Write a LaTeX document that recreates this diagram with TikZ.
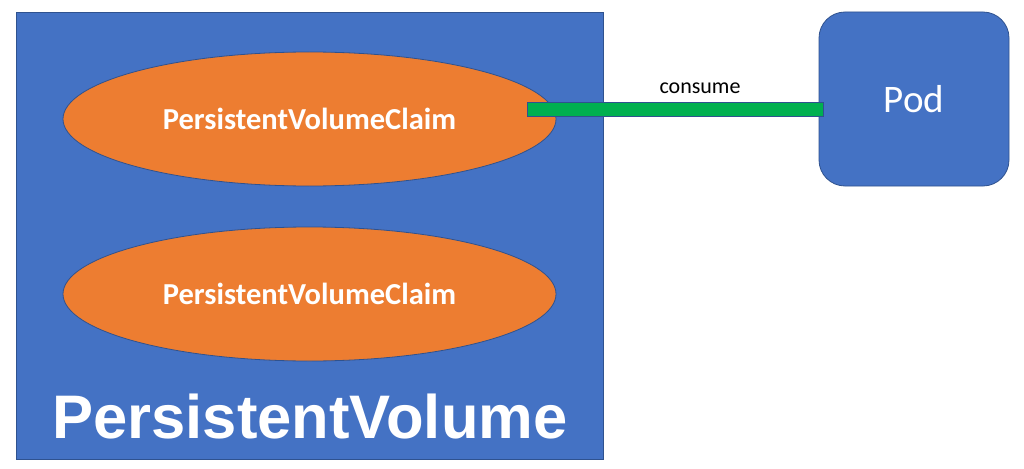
\documentclass[tikz,border=0pt]{standalone}
\usepackage{fontspec}
\setmainfont{Carlito}
\newfontfamily\arialfont{Liberation Sans}
\usetikzlibrary{shapes.geometric,calc}
\definecolor{pvblue}{HTML}{4472C4}
\definecolor{pvborder}{HTML}{2F528F}
\definecolor{pvorange}{HTML}{ED7D31}
\definecolor{pvgreen}{HTML}{00B050}
\tikzset{
  volbox/.style={draw=pvborder, fill=pvblue, line width=0.8pt, inner sep=0pt, minimum width=587pt, minimum height=447pt},
  claim/.style={ellipse, draw=pvborder, fill=pvorange, line width=0.8pt, inner sep=0pt, minimum width=493pt, minimum height=134pt, text=white, font=\fontsize{30.5}{36}\selectfont\bfseries},
  podbox/.style={draw=pvborder, fill=pvblue, line width=0.8pt, rounded corners=26pt, inner sep=0pt, minimum width=190pt, minimum height=174pt, text=white, font=\fontsize{39}{46}\selectfont},
  bigtitle/.style={text=white, font=\fontsize{61.5}{70}\selectfont\arialfont\bfseries, inner sep=0pt, anchor=base},
  lbl/.style={text=black, font=\fontsize{22}{26}\selectfont, inner sep=0pt, anchor=base},
  bar/.style={fill=pvgreen, draw=pvborder, line width=0.8pt}
}
\begin{document}
\begin{tikzpicture}[x=1pt,y=-1pt]
\useasboundingbox (0,0) rectangle (1024,468);
\fill[white] (0,0) rectangle (1024,468);
\node[volbox] (pv) at (309.5,235.5) {};
\node[claim] (pvc1) at (309.5,119) {PersistentVolumeClaim};
\node[claim] (pvc2) at (309.5,294) {PersistentVolumeClaim};
\node[bigtitle] (pvtitle) at (310,438) {PersistentVolume};
\node[podbox] (pod) at (914,99) {Pod};
\coordinate (barL) at (527,109);
\coordinate (barR) at (823,109);
\path[bar] ($(barL)+(0,-7)$) rectangle ($(barR)+(0,7)$);
\node[lbl] (consume) at (700,94) {consume};
\end{tikzpicture}
\end{document}
